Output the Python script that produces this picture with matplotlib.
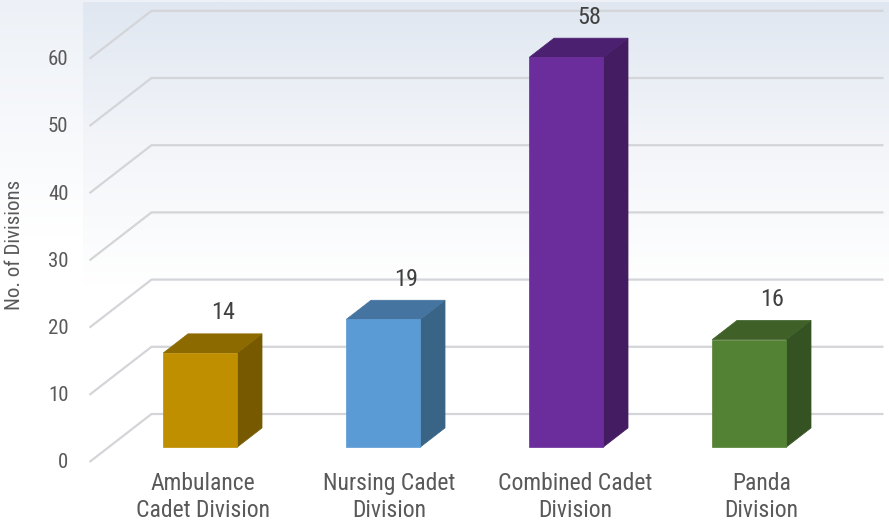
import numpy as np
import matplotlib
matplotlib.use("Agg")
import matplotlib.pyplot as plt
from matplotlib.patches import Polygon
from matplotlib.colors import LinearSegmentedColormap

plt.rcParams['font.family'] = ['Roboto Condensed', 'DejaVu Sans']

# data
categories = ["Ambulance\nCadet Division", "Nursing Cadet\nDivision",
              "Combined Cadet\nDivision", "Panda\nDivision"]
values = [14, 19, 58, 16]
yticks = [0, 10, 20, 30, 40, 50, 60]
front_colors = ["#bf8f00", "#5b9bd5", "#6a2d9b", "#548235"]
top_colors = ["#8c6a00", "#44749f", "#4c2070", "#3f6128"]
side_colors = ["#775a00", "#396486", "#431c62", "#355322"]

fig = plt.figure(figsize=(8.89, 5.22), dpi=100)
ax = fig.add_axes([0, 0, 1, 1])
ax.set_xlim(-181 / 183, (889 - 181) / 183)
ax.set_ylim(-60 / 6.72, 462 / 6.72)
ax.axis('off')

# depth of the box: 62 px right, 48 px up
ddx = 62 / 183
ddy = 48 / 6.72
d0, d1 = 0.31, 0.71
w = 74 / 183
x_left, x_right = -0.5, 3.5

# background gradients
grad = np.linspace(0, 1, 256).reshape(-1, 1)
cm_fig = LinearSegmentedColormap.from_list("f", ["#edf1f7", "#ffffff"])
cm_wall = LinearSegmentedColormap.from_list("w", ["#e0e7f1", "#f3f5f9", "#ffffff"])
ax.imshow(grad, cmap=cm_fig, aspect='auto', extent=[0, 1, 0.55, 1],
          transform=ax.transAxes, zorder=0)
ax.imshow(grad, cmap=cm_wall, aspect='auto', extent=[83 / 889, 1, 0.45, 1 - 3 / 522],
          transform=ax.transAxes, zorder=0.5)

# gridlines: floor/side segment then back wall
for t in yticks:
    ax.plot([x_left, x_left + ddx, x_right + ddx], [t, t + ddy, t + ddy],
            color="#d3d5d9", lw=1.6, zorder=1, solid_capstyle='butt')
    ax.annotate(str(t), (x_left, t), xytext=(-21, -1), textcoords='offset pixels',
                ha='right', va='center', fontsize=15, color="#595959")

# bars
for i, v in enumerate(values):
    xl = i - w / 2
    xr = i + w / 2
    sx0, sy0 = d0 * ddx, d0 * ddy
    sx1, sy1 = d1 * ddx, d1 * ddy
    front = [(xl + sx0, sy0), (xr + sx0, sy0), (xr + sx0, v + sy0), (xl + sx0, v + sy0)]
    top = [(xl + sx0, v + sy0), (xr + sx0, v + sy0), (xr + sx1, v + sy1), (xl + sx1, v + sy1)]
    side = [(xr + sx0, sy0), (xr + sx1, sy1), (xr + sx1, v + sy1), (xr + sx0, v + sy0)]
    ax.add_patch(Polygon(side, closed=True, fc=side_colors[i], ec=side_colors[i], lw=0.5, zorder=3))
    ax.add_patch(Polygon(top, closed=True, fc=top_colors[i], ec=top_colors[i], lw=0.5, zorder=3))
    ax.add_patch(Polygon(front, closed=True, fc=front_colors[i], ec=front_colors[i], lw=0.5, zorder=4))
    ax.annotate(str(v), (i + sx1, v + sy1), xytext=(-2, 21), textcoords='offset pixels',
                ha='center', va='center', fontsize=17.5, color="#404040", zorder=5)
    ax.annotate(categories[i], (i + sx0, 0), xytext=(3 + 3 * i, -10), textcoords='offset pixels',
                ha='center', va='top', fontsize=17, color="#595959", linespacing=1.2)

fig.text(15 / 889, 1 - 245 / 522, "No. of Divisions", rotation=90, ha='center', va='center',
         fontsize=15, color="#595959")

fig.savefig("out.png", dpi=100)
